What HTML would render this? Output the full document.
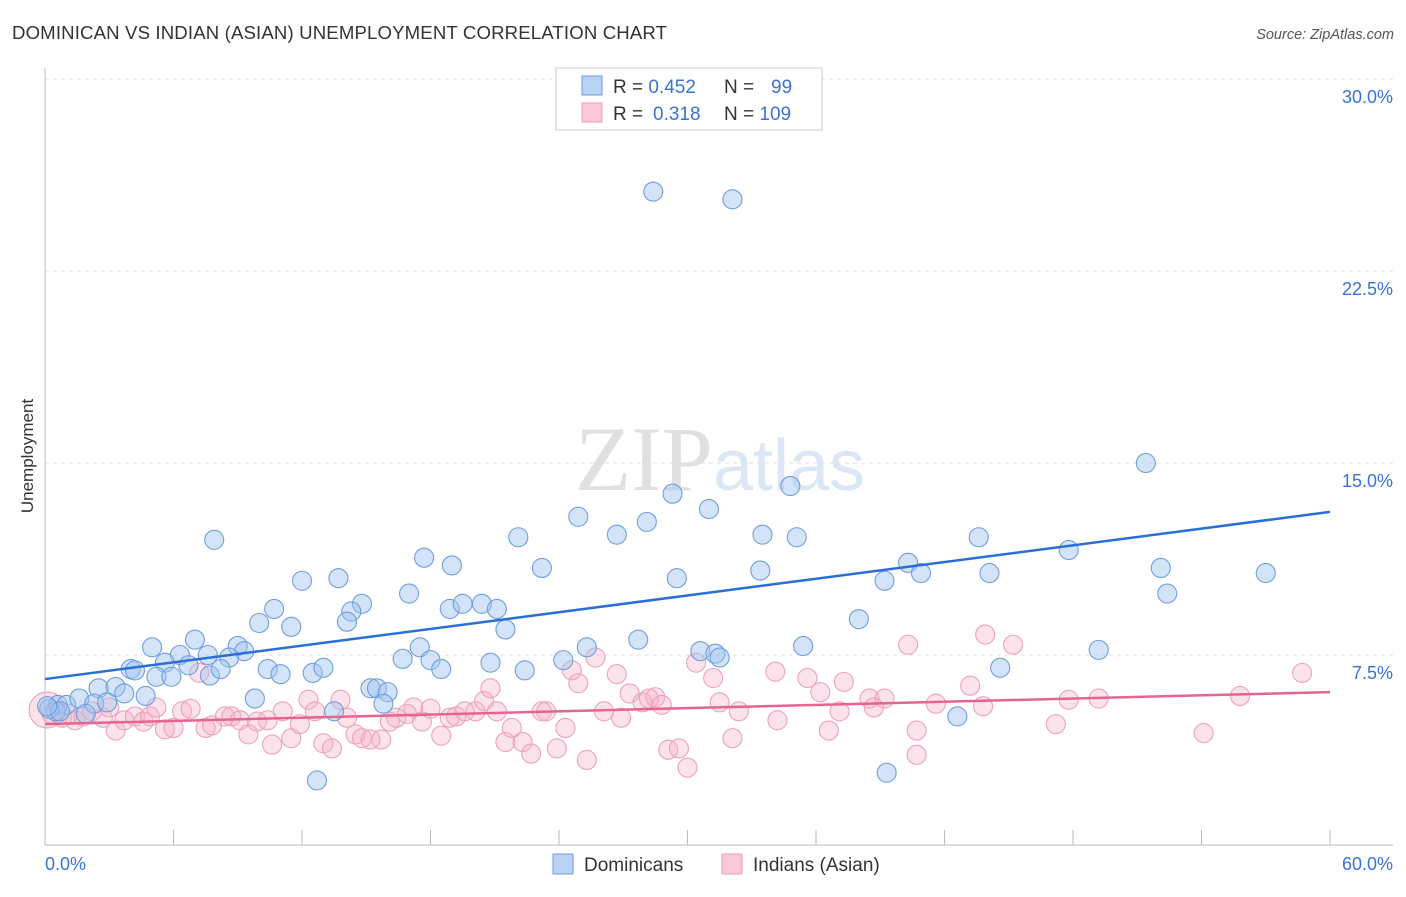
<!DOCTYPE html>
<html><head><meta charset="utf-8"><style>
body{margin:0;background:#fff;font-family:"Liberation Sans",sans-serif;}
svg text{font-family:"Liberation Sans",sans-serif;}
</style></head><body>
<svg id="chart" width="1406" height="892" viewBox="0 0 1406 892">
<text x="12" y="39" font-size="18.6" fill="#333" textLength="655">DOMINICAN VS INDIAN (ASIAN) UNEMPLOYMENT CORRELATION CHART</text>
<text x="1394" y="39" font-size="14.5" fill="#555" font-style="italic" text-anchor="end">Source: ZipAtlas.com</text>
<text x="0" y="0" font-size="17" fill="#333" transform="translate(33,456) rotate(-90)" text-anchor="middle">Unemployment</text>
<g id="grid"></g>
<text x="720" y="490" font-size="92" fill="#e4e4e4" text-anchor="middle" font-family="Liberation Serif"><tspan fill="#e0e0e0" font-family="Liberation Serif">ZIP</tspan><tspan fill="#dce7f5" font-family="Liberation Sans" font-size="72">atlas</tspan></text>
<g id="pts"></g>
<g id="lines"></g>
<g>
<rect x="556" y="68" width="266" height="62" fill="#fff" stroke="#ccc"/>
<rect x="582" y="76" width="20" height="19" fill="#b9d3f5" stroke="#6d9be0"/>
<rect x="582" y="103" width="20" height="19" fill="#fbc9d7" stroke="#eba0b8"/>
<text x="613" y="93" font-size="19" fill="#333">R = <tspan fill="#3b73d4">0.452</tspan></text>
<text x="724" y="93" font-size="19" fill="#333">N = <tspan fill="#3b73d4" x="771">99</tspan></text>
<text x="613" y="120" font-size="19" fill="#333">R = <tspan fill="#3b73d4" x="653">0.318</tspan></text>
<text x="724" y="120" font-size="19" fill="#333">N = <tspan fill="#3b73d4">109</tspan></text>
</g>
<g>
<rect x="553" y="854" width="20" height="20" fill="#b9d3f5" stroke="#6d9be0"/>
<text x="584" y="871" font-size="19" fill="#333">Dominicans</text>
<rect x="722" y="854" width="20" height="20" fill="#fbc9d7" stroke="#eba0b8"/>
<text x="753" y="871" font-size="19" fill="#333">Indians (Asian)</text>
</g>
</svg>
<script>
const yTicks=[7.5,15,22.5,30];
const yTickLabels=["7.5%","15.0%","22.5%","30.0%"];
const xTicks=[0,6,12,18,24,30,36,42,48,54,60];
const xEndLabels=["0.0%","60.0%"];
const blueX=[28.4,32.1,51.4,29.3,34.8,31.0,24.9,28.1,7.9,22.1,26.7,33.5,35.1,43.6,47.8,17.7,19.0,23.2,40.3,52.1,29.5,33.4,39.2,40.9,44.1,57.0,12.0,13.7,17.0,52.4,10.7,14.8,14.3,18.9,19.5,20.4,21.1,10.0,11.5,14.1,21.5,38.0,5.0,7.0,9.0,9.3,17.5,25.3,27.7,30.6,31.3,31.5,35.4,49.2,6.3,7.6,5.6,8.6,16.7,18.0,18.5,20.8,24.2,4.0,4.2,5.2,5.9,6.7,7.7,8.2,10.4,11.0,12.5,13.0,22.4,44.6,2.5,3.3,3.7,4.7,9.8,15.2,15.5,16.0,15.8,0.6,1.0,1.6,2.3,2.9,1.9,13.5,42.6,12.7,39.3,0.5,0.2,0.7,0.1];
const blueY=[25.6,25.3,15.0,13.8,14.1,13.2,12.9,12.7,12.0,12.1,12.2,12.2,12.1,12.1,11.6,11.3,11.0,10.9,11.1,10.9,10.5,10.8,10.4,10.7,10.7,10.7,10.4,10.5,9.9,9.9,9.3,9.5,9.2,9.3,9.5,9.5,9.3,8.75,8.6,8.8,8.5,8.9,7.8,8.1,7.85,7.65,7.8,7.8,8.1,7.65,7.55,7.4,7.85,7.7,7.5,7.5,7.2,7.4,7.35,7.3,6.95,7.2,7.3,6.95,6.9,6.65,6.65,7.1,6.7,6.95,6.95,6.75,6.8,7.0,6.9,7.0,6.2,6.25,6.0,5.9,5.8,6.2,6.2,6.05,5.6,5.55,5.55,5.8,5.6,5.65,5.2,5.3,5.1,2.6,2.9,5.3,5.4,5.3,5.5];
const pinkX=[0.1,0.5,0.8,1.1,1.4,1.8,2.2,2.7,3.0,3.3,3.7,4.2,4.6,4.9,5.2,5.6,6.0,6.4,6.8,7.2,7.5,7.8,8.4,8.7,9.1,9.5,9.9,10.4,10.6,11.1,11.5,11.9,12.3,12.6,13.0,13.4,13.8,14.1,14.5,14.8,15.2,15.7,16.1,16.4,16.9,17.2,17.6,18.0,18.5,18.9,19.2,19.6,20.1,20.5,20.8,21.1,21.5,21.8,22.3,22.7,23.2,23.4,23.9,24.3,24.6,24.9,25.3,25.7,26.1,26.7,26.9,27.3,27.9,28.2,28.5,28.8,29.1,29.6,30.0,30.4,31.2,31.5,32.1,32.4,34.1,34.2,35.6,36.2,36.6,37.1,37.3,38.5,38.7,39.2,40.3,40.7,40.7,41.6,43.2,43.9,43.8,45.2,47.2,47.8,49.2,54.1,55.8,58.7,0.3];
const pinkY=[5.35,5.3,5.05,5.2,4.95,5.1,5.3,5.05,5.45,4.55,4.95,5.1,4.9,5.1,5.45,4.6,4.65,5.3,5.4,6.8,4.65,4.75,5.1,5.1,4.95,4.4,4.9,4.95,4.0,5.3,4.25,4.8,5.75,5.3,4.05,3.85,5.75,5.05,4.4,4.25,4.2,4.2,4.9,5.05,5.2,5.45,4.9,5.4,4.35,5.05,5.1,5.3,5.3,5.7,6.2,5.3,4.1,4.65,4.1,3.65,5.3,5.3,3.85,4.65,6.9,6.4,3.4,7.4,5.3,6.75,5.05,6.0,5.65,5.8,5.85,5.55,3.8,3.85,3.1,7.2,6.6,5.65,4.25,5.3,6.85,4.95,6.6,6.05,4.55,5.3,6.45,5.8,5.45,5.8,7.9,3.6,4.55,5.6,6.3,8.3,5.5,7.9,4.8,5.75,5.8,4.45,5.9,6.8,5.2];
const blueTrend=[6.56,13.09];
const pinkTrend=[4.80,6.05];
const NS="http://www.w3.org/2000/svg";
const X0=45,X1=1330,Y0=847,PY=25.6;
function xs(v){return X0+(v/60)*(X1-X0);}
function ys(v){return Y0-v*PY;}
function mk(t,a,p){const e=document.createElementNS(NS,t);for(const k in a)e.setAttribute(k,a[k]);p.appendChild(e);return e;}
const grid=document.getElementById('grid');
yTicks.forEach((t,i)=>{
 const l=mk('line',{x1:45,x2:1393,y1:ys(t),y2:ys(t),stroke:'#e2e2e2','stroke-dasharray':'4,4'},grid);
 
 
 const tx=mk('text',{x:1393,y:ys(t)+24,'font-size':18,fill:'#3b73d4','text-anchor':'end'},grid);
 tx.textContent=yTickLabels[i];
 
 
});
const ax=mk('line',{x1:45,x2:45,y1:68,y2:845,stroke:'#bbb'},grid);


const bx=mk('line',{x1:45,x2:1393,y1:845,y2:845,stroke:'#bbb'},grid);


xTicks.forEach(t=>{
 const l=mk('line',{x1:xs(t),x2:xs(t),y1:830,y2:845,stroke:'#bbb'},grid);
 
 
});
const xl0=mk('text',{x:45,y:870,'font-size':18,fill:'#3b73d4'},grid);xl0.textContent=xEndLabels[0];


const xl1=mk('text',{x:1393,y:870,'font-size':18,fill:'#3b73d4','text-anchor':'end'},grid);xl1.textContent=xEndLabels[1];


const pts=document.getElementById('pts');
pinkX.forEach((x,i)=>{
 const c=mk('circle',{cx:xs(x),cy:ys(pinkY[i]),r:(i===0?18:9.5),fill:'rgba(246,176,198,0.35)',stroke:'#eda2bb','stroke-width':1.1},pts);
 
 
});
blueX.forEach((x,i)=>{
 const c=mk('circle',{cx:xs(x),cy:ys(blueY[i]),r:9.5,fill:'rgba(160,196,240,0.45)',stroke:'#6f9edf','stroke-width':1.1},pts);
 
 
});
const lines=document.getElementById('lines');
const bl=mk('line',{x1:xs(0),y1:ys(blueTrend[0]),x2:xs(60),y2:ys(blueTrend[1]),stroke:'#2a6fd6','stroke-width':2.5},lines);


const pl=mk('line',{x1:xs(0),y1:ys(pinkTrend[0]),x2:xs(60),y2:ys(pinkTrend[1]),stroke:'#e5658f','stroke-width':2.5},lines);


</script>
</body></html>
